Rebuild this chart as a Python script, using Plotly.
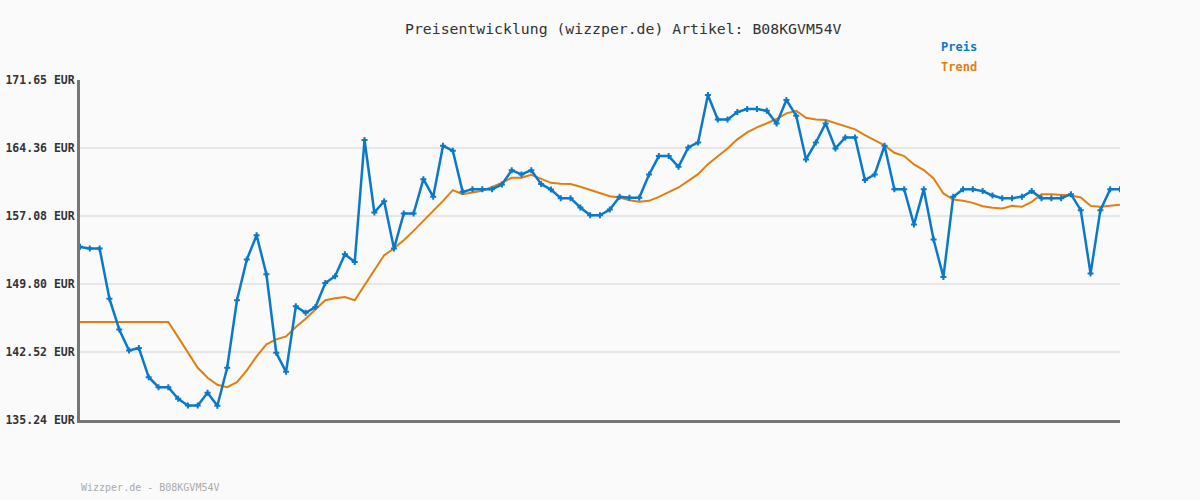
import plotly.graph_objects as go

preis = [153.78, 153.60, 153.60, 148.23, 144.94, 142.69, 142.94, 139.83, 138.76, 138.76,
         137.51, 136.79, 136.79, 138.15, 136.76, 140.83, 148.06, 152.42, 155.03, 150.84,
         142.44, 140.40, 147.41, 146.73, 147.34, 149.91, 150.63, 152.99, 152.17, 165.22,
         157.46, 158.67, 153.60, 157.35, 157.35, 161.03, 159.14, 164.61, 164.07, 159.67,
         159.96, 159.96, 159.96, 160.46, 161.99, 161.53, 161.99, 160.50, 159.92, 159.00,
         159.00, 158.00, 157.17, 157.17, 157.78, 159.14, 159.03, 159.03, 161.53, 163.50,
         163.50, 162.36, 164.43, 164.96, 170.04, 167.43, 167.43, 168.22, 168.54, 168.54,
         168.36, 167.00, 169.51, 167.83, 163.14, 164.96, 167.00, 164.32, 165.50, 165.50,
         160.93, 161.53, 164.61, 159.96, 159.96, 156.17, 159.96, 154.56, 150.56, 159.14,
         159.96, 159.96, 159.75, 159.28, 159.00, 159.00, 159.14, 159.75, 159.00, 159.00,
         159.00, 159.42, 157.71, 150.92, 157.71, 159.96, 159.96]

trend = [145.73, 145.73, 145.73, 145.73, 145.73, 145.73, 145.73, 145.73, 145.73, 145.73,
         144.12, 142.41, 140.83, 139.76, 139.01, 138.76, 139.30, 140.55, 142.05, 143.34,
         143.87, 144.19, 145.20, 146.09, 147.05, 148.06, 148.27, 148.40, 148.06, 149.66,
         151.27, 152.88, 153.60, 154.49, 155.49, 156.56, 157.53, 158.71, 159.85, 159.42,
         159.60, 159.78, 160.21, 160.64, 161.18, 161.18, 161.50, 161.03, 160.64, 160.53,
         160.50, 160.21, 159.85, 159.50, 159.20, 159.07, 158.78, 158.60, 158.71, 159.14,
         159.60, 160.14, 160.85, 161.57, 162.64, 163.50, 164.32, 165.29, 166.04, 166.57,
         167.00, 167.47, 168.08, 168.36, 167.61, 167.43, 167.36, 167.00, 166.65, 166.36,
         165.75, 165.22, 164.65, 163.86, 163.50, 162.61, 162.00, 161.10, 159.50, 158.85,
         158.71, 158.49, 158.14, 157.96, 157.89, 158.17, 158.07, 158.60, 159.42, 159.42,
         159.35, 159.28, 159.07, 158.17, 158.07, 158.17, 158.28]

tick_vals = [135.24, 142.52, 149.80, 157.08, 164.36, 171.65]
tick_text = ["135.24 EUR", "142.52 EUR", "149.80 EUR", "157.08 EUR", "164.36 EUR", "171.65 EUR"]

title_text = "Preisentwicklung (wizzper.de) Artikel: B08KGVM54V"
footer_text = "Wizzper.de - B08KGVM54V"

BLUE = "#0b79c9"
ORANGE = "#e07f10"
MONO = "DejaVu Sans Mono"

L, R, T, B = 80, 1120, 80, 420

def px(xp):
    return (xp - L) / (R - L)

def py(yp):
    return (B - yp) / (B - T)

x = list(range(len(preis)))

fig = go.Figure()
fig.add_trace(go.Scatter(x=x, y=trend, mode="lines", name="Trend",
                         line=dict(color=ORANGE, width=2), showlegend=False,
                         hoverinfo="skip"))
fig.add_trace(go.Scatter(x=x, y=preis, mode="lines+markers", name="Preis",
                         line=dict(color=BLUE, width=2.5),
                         marker=dict(symbol="cross", size=5, color=BLUE),
                         showlegend=False))

fig.update_layout(
    width=1200, height=500,
    margin=dict(l=L, r=1200 - R, t=T, b=500 - B),
    paper_bgcolor="#fafafa", plot_bgcolor="#fafafa",
    font=dict(family=MONO, color="#333333"),
    xaxis=dict(range=[0, len(preis) - 1], showgrid=False, showticklabels=False,
               zeroline=False, showline=True, linecolor="#777777", linewidth=3,
               ticks="", automargin=False),
    yaxis=dict(range=[tick_vals[0], tick_vals[-1]], tickvals=tick_vals, ticktext=tick_text,
               showgrid=True, gridcolor="#e6e6e6", gridwidth=2, zeroline=False,
               showline=True, linecolor="#777777", linewidth=3, ticks="", ticklen=0,
               tickfont=dict(family=MONO, size=11.5, color="#333333", weight="bold"),
               ticklabelstandoff=0, automargin=False),
    annotations=[
        dict(text=title_text, x=px(623), y=py(28), xref="paper", yref="paper",
             xanchor="center", yanchor="middle", showarrow=False,
             font=dict(family=MONO, size=14.8, color="#333333")),
        dict(text="<b>Preis</b>", x=px(939), y=py(47), xref="paper", yref="paper",
             xanchor="left", yanchor="middle", showarrow=False,
             font=dict(family=MONO, size=12, color=BLUE)),
        dict(text="<b>Trend</b>", x=px(939), y=py(67), xref="paper", yref="paper",
             xanchor="left", yanchor="middle", showarrow=False,
             font=dict(family=MONO, size=12, color=ORANGE)),
        dict(text=footer_text, x=px(79), y=py(487), xref="paper", yref="paper",
             xanchor="left", yanchor="middle", showarrow=False,
             font=dict(family=MONO, size=10, color="#aaaaaa")),
    ],
)

fig.write_html("out.html")
